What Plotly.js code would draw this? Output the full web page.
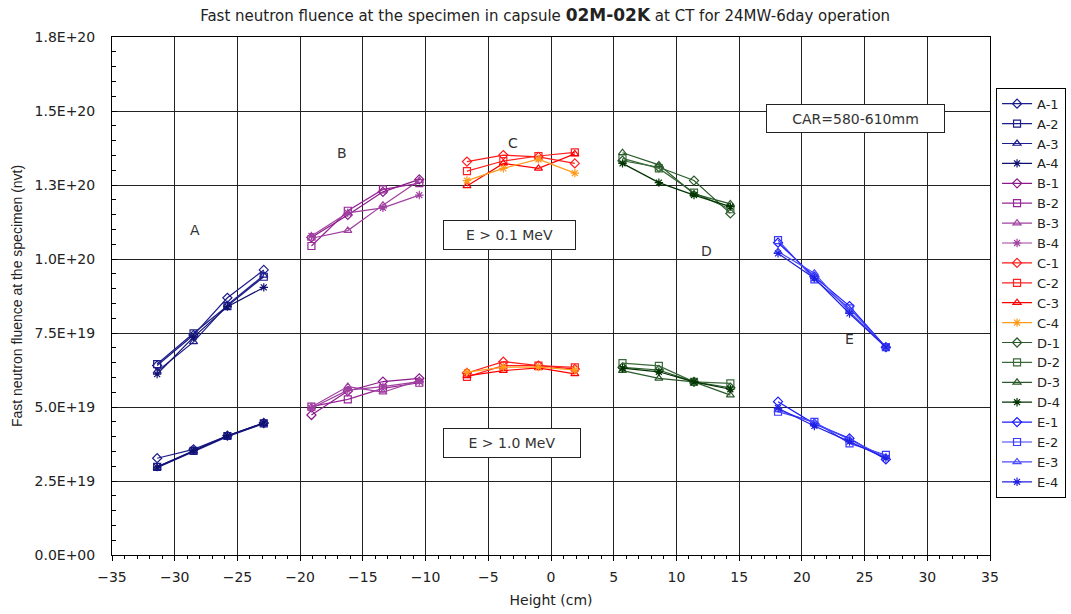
<!DOCTYPE html>
<html>
<head>
<meta charset="utf-8">
<script src="https://cdn.plot.ly/plotly-3.0.1.min.js"></script>
<style>html,body{margin:0;padding:0;background:#fff;}#chart{width:1071px;height:614px;}</style>
</head>
<body>
<div id="chart"></div>
<script>
// Heights (cm) of the specimen positions in each group
const heightsA = [-31.4, -28.5, -25.8, -22.9];
const heightsB = [-19.1, -16.2, -13.4, -10.5];
const heightsC = [-6.7, -3.8, -1.0, 1.9];
const heightsD = [5.7, 8.6, 11.4, 14.3];
const heightsE = [18.1, 21.0, 23.8, 26.7];

// Fluence values in units of 1E+19 nvt: upper = E > 0.1 MeV, lower = E > 1.0 MeV
const A1_hi = [6.40, 7.43, 8.69, 9.63], A1_lo = [3.27, 3.57, 4.03, 4.46];
const A2_hi = [6.45, 7.49, 8.41, 9.40], A2_lo = [2.98, 3.52, 4.02, 4.45];
const A3_hi = [6.20, 7.20, 8.45, 9.45], A3_lo = [2.95, 3.50, 4.00, 4.44];
const A4_hi = [6.11, 7.36, 8.39, 9.04], A4_lo = [2.97, 3.53, 4.03, 4.46];

const B1_hi = [10.73, 11.49, 12.27, 12.69], B1_lo = [4.73, 5.54, 5.86, 5.97];
const B2_hi = [10.44, 11.63, 12.35, 12.56], B2_lo = [5.01, 5.26, 5.63, 5.82];
const B3_hi = [10.70, 10.96, 11.82, 12.65], B3_lo = [5.00, 5.69, 5.50, 5.90];
const B4_hi = [10.78, 11.56, 11.73, 12.16], B4_lo = [4.96, 5.57, 5.69, 5.86];

const C1_hi = [13.29, 13.51, 13.45, 13.23], C1_lo = [6.15, 6.53, 6.40, 6.28];
const C2_hi = [12.97, 13.31, 13.48, 13.60], C2_lo = [6.02, 6.40, 6.40, 6.34];
const C3_hi = [12.47, 13.23, 13.06, 13.55], C3_lo = [6.05, 6.23, 6.32, 6.12];
const C4_hi = [12.65, 13.06, 13.37, 12.90], C4_lo = [6.18, 6.35, 6.35, 6.25];

const D1_hi = [13.32, 13.10, 12.65, 11.54], D1_lo = [6.34, 6.25, 5.85, 5.65];
const D2_hi = [13.40, 13.06, 12.24, 11.68], D2_lo = [6.48, 6.39, 5.85, 5.80];
const D3_hi = [13.59, 13.18, 12.20, 11.86], D3_lo = [6.23, 5.97, 5.85, 5.40];
const D4_hi = [13.23, 12.58, 12.16, 11.77], D4_lo = [6.31, 6.19, 5.85, 5.60];

const E1_hi = [10.55, 9.40, 8.41, 7.02], E1_lo = [5.18, 4.43, 3.94, 3.23];
const E2_hi = [10.64, 9.31, 8.33, 7.02], E2_lo = [4.84, 4.50, 3.77, 3.38];
const E3_hi = [10.25, 9.52, 8.22, 7.02], E3_lo = [4.90, 4.47, 3.90, 3.30];
const E4_hi = [10.19, 9.35, 8.16, 7.02], E4_lo = [4.96, 4.36, 3.83, 3.27];

const seriesNames = ['A-1','A-2','A-3','A-4','B-1','B-2','B-3','B-4','C-1','C-2','C-3','C-4','D-1','D-2','D-3','D-4','E-1','E-2','E-3','E-4'];

// Y axis tick labels (as printed on the original)
const yTickVals = [0, 2.5e19, 5.0e19, 7.5e19, 1.0e20, 1.25e20, 1.5e20, 1.75e20];
const yTickText = ['0.0E+00','2.5E+19','5.0E+19','7.5E+19','1.0E+20','1.3E+20','1.5E+20','1.8E+20'];

const groups = [
  {h: heightsA, s: [[A1_hi,A1_lo],[A2_hi,A2_lo],[A3_hi,A3_lo],[A4_hi,A4_lo]], colors: ['#1c1c8a','#1c1c8a','#1c1c8a','#101070']},
  {h: heightsB, s: [[B1_hi,B1_lo],[B2_hi,B2_lo],[B3_hi,B3_lo],[B4_hi,B4_lo]], colors: ['#8a1a8a','#962596','#a040a0','#a040a0']},
  {h: heightsC, s: [[C1_hi,C1_lo],[C2_hi,C2_lo],[C3_hi,C3_lo],[C4_hi,C4_lo]], colors: ['#ff1a1a','#ff2020','#ff0000','#ff9a1a']},
  {h: heightsD, s: [[D1_hi,D1_lo],[D2_hi,D2_lo],[D3_hi,D3_lo],[D4_hi,D4_lo]], colors: ['#2a5a2a','#3a6a3a','#2a5a2a','#003300']},
  {h: heightsE, s: [[E1_hi,E1_lo],[E2_hi,E2_lo],[E3_hi,E3_lo],[E4_hi,E4_lo]], colors: ['#1a1aff','#3a3aff','#4a4aff','#2020e0']}
];
const symbols = ['diamond-open','square-open','triangle-up-open','asterisk-open'];

const traces = [];
let k = 0;
groups.forEach(g => {
  g.s.forEach((pair, i) => {
    const name = seriesNames[k++];
    const xs = g.h.concat([null], g.h);
    const ys = pair[0].concat([null], pair[1]).map(v => v === null ? null : v * 1e19);
    traces.push({
      type: 'scatter', mode: 'lines+markers', name: name,
      x: xs, y: ys, connectgaps: false,
      line: {color: g.colors[i], width: 1.2},
      marker: {symbol: symbols[i], size: 7, color: g.colors[i], line: {width: 1.2, color: g.colors[i]}}
    });
  });
});

const fontFam = '"DejaVu Sans", "Liberation Sans", sans-serif';
const fontLib = '"Liberation Sans", Arial, sans-serif';
const layout = {
  width: 1071, height: 614,
  margin: {l: 112, r: 81, t: 37, b: 59, autoexpand: false},
  paper_bgcolor: '#fff', plot_bgcolor: '#fff',
  font: {family: fontFam, size: 13, color: '#222'},
  title: {text: 'Fast neutron fluence at the specimen in capsule <b><span style="font-size:17px">02M-02K</span></b> at CT for 24MW-6day operation',
          x: 0.509, xanchor: 'center', y: 0.975, yanchor: 'middle', font: {family: fontFam, size: 15, color: '#222'}},
  xaxis: {
    range: [-35, 35], tickmode: 'linear', tick0: -35, dtick: 5,
    showgrid: true, gridcolor: '#222', gridwidth: 1, zeroline: false,
    showline: true, linecolor: '#000', linewidth: 1, mirror: true,
    ticks: 'outside', ticklen: 5, tickcolor: '#000', ticklabelstandoff: 4,
    minor: {dtick: 1, ticks: 'outside', ticklen: 3, tickcolor: '#000', showgrid: false},
    tickfont: {family: fontFam, size: 14, color: '#222'},
    title: {text: 'Height (cm)', font: {family: fontFam, size: 14, color: '#222'}, standoff: 11}
  },
  yaxis: {
    range: [0, 1.75e20], tickmode: 'array', tickvals: yTickVals, ticktext: yTickText,
    showgrid: true, gridcolor: '#222', gridwidth: 1, zeroline: false,
    showline: true, linecolor: '#000', linewidth: 1, mirror: true,
    ticks: 'inside', ticklen: 5, tickcolor: '#000', ticklabelstandoff: 13,
    minor: {tickvals: [0.5e19,1e19,1.5e19,2e19,3e19,3.5e19,4e19,4.5e19,5.5e19,6e19,6.5e19,7e19,8e19,8.5e19,9e19,9.5e19,1.05e20,1.1e20,1.15e20,1.2e20,1.3e20,1.35e20,1.4e20,1.45e20,1.55e20,1.6e20,1.65e20,1.7e20], ticks: 'inside', ticklen: 4, tickcolor: '#000', showgrid: false},
    tickfont: {family: fontFam, size: 14, color: '#222'},
    title: {text: 'Fast neutron fluence at the specimen (nvt)', font: {family: fontLib, size: 14, color: '#222'}, standoff: 8}
  },
  legend: {
    x: 1.0866, xanchor: 'right', y: 0.902, yanchor: 'top',
    bordercolor: '#000', borderwidth: 1, bgcolor: '#fff',
    font: {family: fontFam, size: 13, color: '#222'}, itemwidth: 30, tracegroupgap: 0
  },
  showlegend: true,
  annotations: [
    {x: -28.4, y: 1.098e20, text: 'A', showarrow: false, font: {size: 14, color: '#333'}},
    {x: -16.7, y: 1.358e20, text: 'B', showarrow: false, font: {size: 14, color: '#333'}},
    {x: -3.0, y: 1.392e20, text: 'C', showarrow: false, font: {size: 14, color: '#333'}},
    {x: 12.4, y: 1.027e20, text: 'D', showarrow: false, font: {size: 14, color: '#333'}},
    {x: 23.8, y: 0.73e20, text: 'E', showarrow: false, font: {size: 14, color: '#333'}},
    {x: -3.3, y: 1.081e20, text: 'E &gt; 0.1 MeV', showarrow: false, font: {size: 14, color: '#333'},
     bgcolor: '#fff', bordercolor: '#222', borderwidth: 1, width: 125, height: 22, borderpad: 3},
    {x: -3.1, y: 0.378e20, text: 'E &gt; 1.0 MeV', showarrow: false, font: {size: 14, color: '#333'},
     bgcolor: '#fff', bordercolor: '#222', borderwidth: 1, width: 130, height: 22, borderpad: 3},
    {x: 24.3, y: 1.476e20, text: 'CAR=580-610mm', showarrow: false, font: {size: 14, color: '#333'},
     bgcolor: '#fff', bordercolor: '#222', borderwidth: 1, width: 171, height: 21, borderpad: 3}
  ]
};

Plotly.newPlot('chart', traces, layout, {displayModeBar: false, staticPlot: true});
</script>
</body>
</html>
